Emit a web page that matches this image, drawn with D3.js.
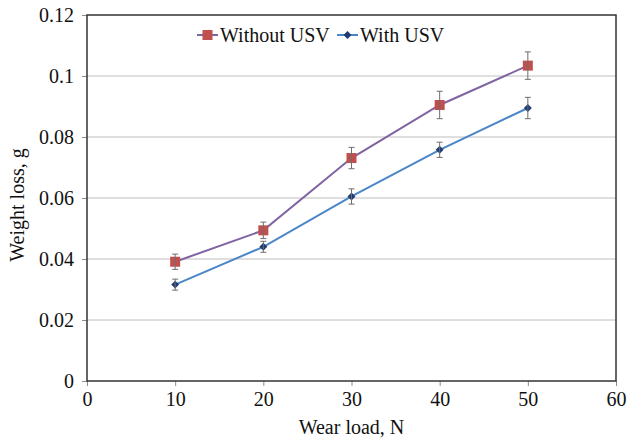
<!DOCTYPE html>
<html>
<head>
<meta charset="utf-8">
<script src="https://cdn.jsdelivr.net/npm/d3@7"></script>
<style>
  body { margin: 0; background: #fff; }
  svg text { font-family: "Liberation Serif", "Times New Roman", serif; }
</style>
</head>
<body>
<svg></svg>
<script>
let width = 627;
let height = 439;
let margin = { top: 15, right: 11, bottom: 58, left: 87 };

let loads = [10, 20, 30, 40, 50];
let withoutUSV = [0.0391, 0.0494, 0.0731, 0.0905, 0.1034];
let withoutErr = [0.0025, 0.0027, 0.0035, 0.0045, 0.0045];
let withUSV = [0.0316, 0.0440, 0.0605, 0.0758, 0.0895];
let withErr = [0.0018, 0.0018, 0.0025, 0.0025, 0.0035];
let xTicks = [0, 10, 20, 30, 40, 50, 60];
let yTicks = [0, 0.02, 0.04, 0.06, 0.08, 0.1, 0.12];

let series = [
    { name: 'Without USV', values: withoutUSV, err: withoutErr, line: '#8064a2', marker: '#c0504d', shape: 'square' },
    { name: 'With USV', values: withUSV, err: withErr, line: '#4a86c8', marker: '#1f3b73', shape: 'diamond' }
];

let serif = '"Liberation Serif", "Times New Roman", serif';

let xScale = d3.scaleLinear()
                .domain([0, 60])
                .range([margin.left, width - margin.right]);

let yScale = d3.scaleLinear()
                .domain([0, 0.12])
                .range([height - margin.bottom, margin.top]);

let svg = d3.select('svg')
    .attr('width', width)
    .attr('height', height);

// gridlines
svg.append('g')
    .selectAll('line')
    .data(yTicks.slice(1, -1))
    .enter()
    .append('line')
        .attr('x1', margin.left)
        .attr('x2', width - margin.right)
        .attr('y1', d => yScale(d))
        .attr('y2', d => yScale(d))
        .attr('stroke', '#bebebe')
        .attr('stroke-width', 1);

let xAxis = d3.axisBottom(xScale)
                .tickValues(xTicks)
                .tickFormat(d3.format('d'))
                .tickSize(5)
                .tickSizeOuter(0)
                .tickPadding(6);

let yAxis = d3.axisLeft(yScale)
                .tickValues(yTicks)
                .tickFormat(d => d === 0 ? '0' : String(+d.toFixed(2)))
                .tickSize(5)
                .tickSizeOuter(0)
                .tickPadding(8);

let gx = svg.append('g')
    .attr('transform', `translate(0, ${height - margin.bottom})`)
    .call(xAxis);

let gy = svg.append('g')
    .attr('transform', `translate(${margin.left}, 0)`)
    .call(yAxis);

[gx, gy].forEach(g => {
    g.attr('font-family', serif).attr('font-size', 20);
    g.select('.domain').remove();
    g.selectAll('.tick line').attr('stroke', '#8c8c8c');
    g.selectAll('.tick text').attr('fill', '#111');
});

// plot frame
svg.append('rect')
    .attr('x', margin.left)
    .attr('y', margin.top)
    .attr('width', width - margin.left - margin.right)
    .attr('height', height - margin.top - margin.bottom)
    .attr('fill', 'none')
    .attr('stroke', '#333')
    .attr('stroke-width', 1.5);

let line = d3.line()
    .x((d, i) => xScale(loads[i]))
    .y(d => yScale(d));

function drawMarker(g, s, x, y) {
    if (s.shape === 'square') {
        g.append('rect')
            .attr('x', x - 5)
            .attr('y', y - 5)
            .attr('width', 10)
            .attr('height', 10)
            .attr('fill', s.marker);
    } else {
        g.append('path')
            .attr('d', d3.symbol(d3.symbolDiamond2, 40)())
            .attr('transform', `translate(${x}, ${y})`)
            .attr('fill', s.marker);
    }
}

series.forEach(s => {
    let g = svg.append('g');

    g.append('path')
        .datum(s.values)
        .attr('d', line)
        .attr('fill', 'none')
        .attr('stroke', s.line)
        .attr('stroke-width', 2);

    s.values.forEach((v, i) => {
        let x = xScale(loads[i]);
        let yTop = yScale(v + s.err[i]);
        let yBot = yScale(v - s.err[i]);
        drawMarker(g, s, x, yScale(v));
        let eb = g.append('g')
            .attr('stroke', '#6e6e6e')
            .attr('stroke-width', 1);
        eb.append('line').attr('x1', x).attr('x2', x).attr('y1', yTop).attr('y2', yBot);
        eb.append('line').attr('x1', x - 3).attr('x2', x + 3).attr('y1', yTop).attr('y2', yTop);
        eb.append('line').attr('x1', x - 3).attr('x2', x + 3).attr('y1', yBot).attr('y2', yBot);
    });
});

// legend
let legendX = [197, 337];
series.forEach((s, i) => {
    let lg = svg.append('g').attr('transform', `translate(${legendX[i]}, 35)`);
    lg.append('line')
        .attr('x1', 0)
        .attr('x2', 21)
        .attr('stroke', s.line)
        .attr('stroke-width', 2);
    drawMarker(lg, s, 10.5, 0);
    lg.append('text')
        .attr('x', 23)
        .attr('y', 7)
        .attr('font-family', serif)
        .attr('font-size', 20)
        .attr('fill', '#111')
        .text(s.name);
});

svg.append('text')
    .attr('x', (margin.left + width - margin.right) / 2)
    .attr('y', 434)
    .attr('text-anchor', 'middle')
    .attr('font-family', serif)
    .attr('font-size', 20)
    .attr('fill', '#111')
    .text('Wear load, N');

svg.append('text')
    .attr('transform', 'rotate(-90)')
    .attr('x', -205)
    .attr('y', 24)
    .attr('text-anchor', 'middle')
    .attr('font-family', serif)
    .attr('font-size', 20)
    .attr('fill', '#111')
    .text('Weight loss, g');
</script>
</body>
</html>
